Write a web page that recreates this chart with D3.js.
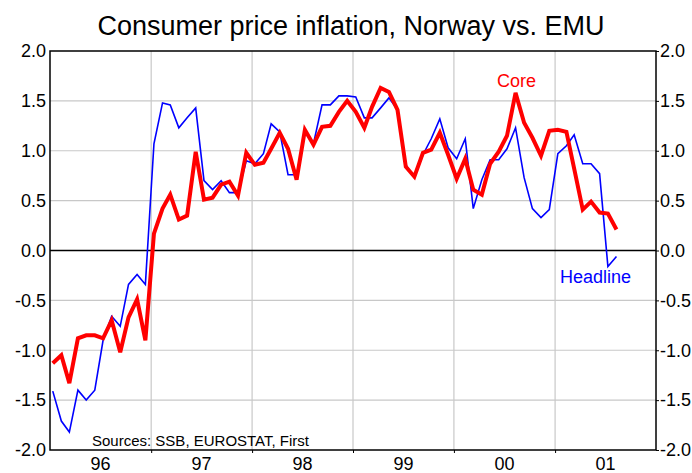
<!DOCTYPE html>
<html><head><meta charset="utf-8">
<script src="https://cdn.jsdelivr.net/npm/d3@7"></script>
<style>body{margin:0;background:#fff}svg{display:block}text{font-family:"Liberation Sans",Arial,sans-serif}</style>
</head><body><svg id="c" width="692" height="473"></svg>
<script>
const startMonth = "1996-01";
const core = [-1.13,-1.05,-1.33,-0.88,-0.85,-0.85,-0.88,-0.70,-1.02,-0.67,-0.49,-0.90,
  0.17,0.42,0.56,0.31,0.35,0.99,0.51,0.53,0.66,0.69,0.55,0.98,
  0.86,0.88,1.02,1.18,1.02,0.71,1.21,1.06,1.24,1.25,1.39,1.50,
  1.39,1.23,1.44,1.63,1.59,1.41,0.84,0.74,0.98,1.01,1.18,0.96,
  0.72,0.92,0.61,0.56,0.87,0.99,1.15,1.58,1.28,1.13,0.95,1.20,
  1.21,1.19,0.82,0.41,0.49,0.38,0.37,0.21];
const headline = [-1.41,-1.71,-1.82,-1.40,-1.50,-1.40,-0.90,-0.66,-0.76,-0.34,-0.24,-0.34,
  1.07,1.48,1.46,1.23,1.33,1.43,0.70,0.61,0.70,0.58,0.58,0.90,
  0.87,0.97,1.27,1.19,0.76,0.76,1.18,1.07,1.46,1.46,1.55,1.55,
  1.54,1.33,1.33,1.43,1.53,1.41,0.86,0.73,0.96,1.12,1.32,1.03,
  0.92,1.12,0.42,0.71,0.91,0.91,1.02,1.23,0.73,0.42,0.33,0.41,
  0.97,1.05,1.16,0.87,0.87,0.77,-0.16,-0.06];
const yearLabels = ["96","97","98","99","00","01"];
const yTicks = [-2.0,-1.5,-1.0,-0.5,0.0,0.5,1.0,1.5,2.0];
const title = "Consumer price inflation, Norway vs. EMU";
const source = "Sources: SSB, EUROSTAT, First";

const svg = d3.select("#c");
const L=50, R=656, T=51, B=450;
const parse = d3.timeParse("%Y-%m");
const t0 = parse(startMonth);
const dates = core.map((_,i)=> d3.timeDay.offset(d3.timeMonth.offset(t0,i),10));
const x = d3.scaleTime().domain([new Date(1996,0,1), new Date(2002,0,1)]).range([L,R]);
const y = d3.scaleLinear().domain([-2,2]).range([B,T]);

// grid
const yearBounds = d3.range(1997,2002).map(yr=>new Date(yr,0,1));
svg.append("g").selectAll("line").data(yTicks.filter(v=>v!==0 && Math.abs(v)<2)).join("line")
  .attr("x1",L).attr("x2",R).attr("y1",d=>y(d)).attr("y2",d=>y(d))
  .attr("stroke","#c8c8c8").attr("stroke-width",1.2);
svg.append("g").selectAll("line").data(yearBounds).join("line")
  .attr("x1",d=>x(d)).attr("x2",d=>x(d)).attr("y1",T).attr("y2",B)
  .attr("stroke","#c8c8c8").attr("stroke-width",1.2);
// zero line
svg.append("line").attr("x1",L).attr("x2",R).attr("y1",y(0)).attr("y2",y(0))
  .attr("stroke","#000").attr("stroke-width",1.5);

// axes
const fmt = d3.format(".1f");
const leftAxis = d3.axisLeft(y).tickValues(yTicks).tickSize(0).tickPadding(4).tickFormat(d=>fmt(d).replace("−","-"));
const rightAxis = d3.axisRight(y).tickValues(yTicks).tickSize(3).tickPadding(1).tickFormat(d=>fmt(d).replace("−","-"));
const gl = svg.append("g").attr("transform",`translate(${L},0)`).call(leftAxis);
const gr = svg.append("g").attr("transform",`translate(${R},0)`).call(rightAxis);
[gl,gr].forEach(g=>{g.select(".domain").remove(); g.selectAll("text").attr("font-size",18).attr("fill","#000").attr("font-family","Liberation Sans, Arial");});
const bottomAxis = d3.axisBottom(x).tickValues(yearBounds).tickSize(3).tickFormat("");
const gb = svg.append("g").attr("transform",`translate(0,${B})`).call(bottomAxis);
gb.select(".domain").remove();
svg.append("g").selectAll("text").data(yearLabels).join("text")
  .attr("x",(d,i)=>(x(new Date(1996+i,0,1))+x(new Date(1997+i,0,1)))/2)
  .attr("y",470).attr("text-anchor","middle").attr("font-size",18).text(d=>d);

// frame
svg.append("rect").attr("x",L).attr("y",T).attr("width",R-L).attr("height",B-T)
  .attr("fill","none").attr("stroke","#000").attr("stroke-width",1.5);

// lines
const line = d3.line().x((d,i)=>x(dates[i])).y(d=>y(d));
svg.append("path").datum(headline).attr("d",line).attr("fill","none")
  .attr("stroke","#0000ff").attr("stroke-width",1.6).attr("stroke-linejoin","miter");
svg.append("path").datum(core).attr("d",line).attr("fill","none")
  .attr("stroke","#ff0000").attr("stroke-width",4).attr("stroke-linejoin","miter");

// labels
svg.append("text").attr("x",497).attr("y",87).attr("font-size",18).attr("fill","#ff0000").text("Core");
svg.append("text").attr("x",560).attr("y",283).attr("font-size",18).attr("fill","#0000ff").text("Headline");
svg.append("text").attr("x",351).attr("y",35).attr("text-anchor","middle").attr("font-size",27).attr("fill","#000").text(title);
svg.append("text").attr("x",92).attr("y",446).attr("font-size",15).attr("fill","#000").text(source);
</script></body></html>
